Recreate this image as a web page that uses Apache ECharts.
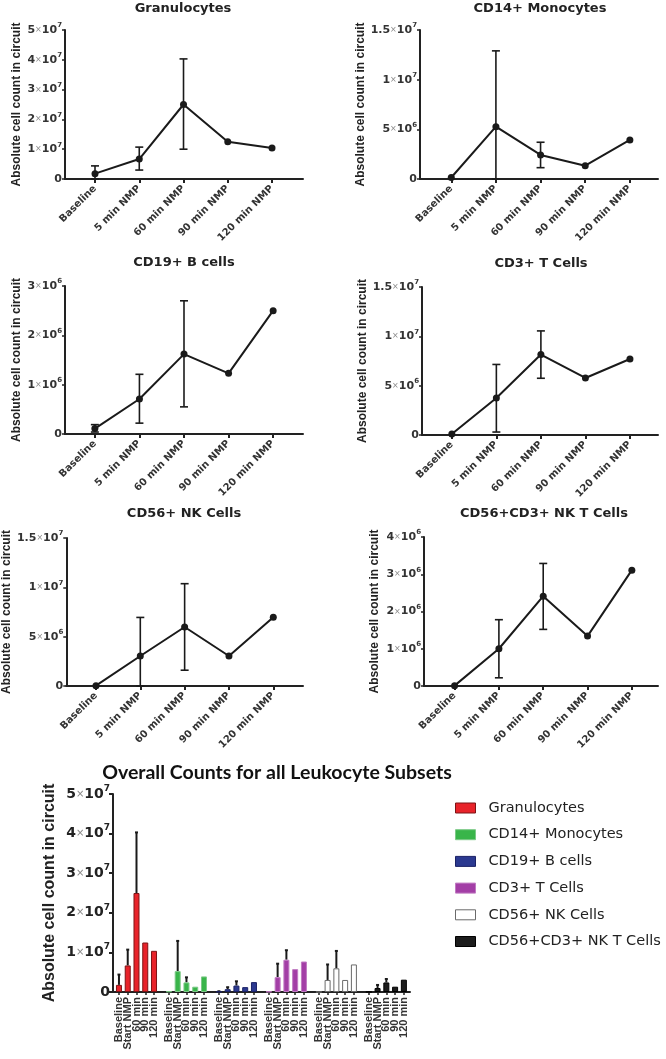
<!DOCTYPE html>
<html>
<head>
<meta charset="utf-8">
<script src="https://cdn.jsdelivr.net/npm/echarts@6/dist/echarts.min.js"></script>
<style>
  html, body { margin: 0; padding: 0; background: #fff; }
  #chart { width: 666px; height: 1059px; }
</style>
</head>
<body>
<div id="chart"></div>
<script>
// ---------- DATA ----------
const categories = ['Baseline', '5 min NMP', '60 min NMP', '90 min NMP', '120 min NMP'];
const barCategories = ['Baseline', 'Start NMP', '60 min', '90 min', '120 min'];
const subsetNames = ['Granulocytes', 'CD14+ Monocytes', 'CD19+ B cells', 'CD3+ T Cells', 'CD56+ NK Cells', 'CD56+CD3+ NK T Cells'];

const granMean = [1.8e6, 6.7e6, 2.5e7, 1.25e7, 1.04e7];
const granLow  = [0, 3.0e6, 1.0e7, null, null];
const granHigh = [4.4e6, 1.07e7, 4.03e7, null, null];

const monoMean = [1.5e5, 5.27e6, 2.42e6, 1.34e6, 3.93e6];
const monoLow  = [null, 0, 1.14e6, null, null];
const monoHigh = [null, 1.29e7, 3.7e6, null, null];

const bcellMean = [1.1e5, 7.1e5, 1.62e6, 1.23e6, 2.5e6];
const bcellLow  = [4e4, 2.2e5, 5.5e5, null, null];
const bcellHigh = [1.9e5, 1.21e6, 2.7e6, null, null];

const tcellMean = [1e5, 3.75e6, 8.15e6, 5.78e6, 7.7e6];
const tcellLow  = [null, 3e5, 5.75e6, null, null];
const tcellHigh = [null, 7.15e6, 1.055e7, null, null];

const nkMean = [3e4, 3.04e6, 5.98e6, 3.04e6, 6.96e6];
const nkLow  = [null, 0, 1.6e6, null, null];
const nkHigh = [null, 6.95e6, 1.037e7, null, null];

const nktMean = [1e4, 1.0e6, 2.41e6, 1.34e6, 3.11e6];
const nktLow  = [null, 2.2e5, 1.52e6, null, null];
const nktHigh = [null, 1.78e6, 3.29e6, null, null];

const yTitle = 'Absolute cell count in circuit';
const barTitle = 'Overall Counts for all Leukocyte Subsets';

// ---------- STYLE / LAYOUT ----------
const subsetData = [
  [granMean, granLow, granHigh],
  [monoMean, monoLow, monoHigh],
  [bcellMean, bcellLow, bcellHigh],
  [tcellMean, tcellLow, tcellHigh],
  [nkMean, nkLow, nkHigh],
  [nktMean, nktLow, nktHigh]
];
const barFill   = ['#e8232a', '#39b54a', '#2b3990', '#a33ea6', '#ffffff', '#1c1c1c'];
const barBorder = ['#7d1416', '#7cc987', '#1b2266', '#c07ac2', '#6a6a6a', '#000000'];

const panels = [
  { grid: { left: 65,  top: 30,  width: 238, height: 149 }, xMin: -0.678, xMax: 4.70, yMax: 5e7,   yInt: 1e7, gap: 42, tx: 183, ty: 2 },
  { grid: { left: 420, top: 30,  width: 238, height: 149 }, xMin: -0.70,  xMax: 4.63, yMax: 1.5e7, yInt: 5e6, gap: 49, tx: 540, ty: 2 },
  { grid: { left: 65,  top: 286, width: 238, height: 148 }, xMin: -0.67,  xMax: 4.67, yMax: 3e6,   yInt: 1e6, gap: 42, tx: 184, ty: 256 },
  { grid: { left: 422, top: 287, width: 236, height: 148 }, xMin: -0.67,  xMax: 4.63, yMax: 1.5e7, yInt: 5e6, gap: 51, tx: 541, ty: 257 },
  { grid: { left: 65,  top: 538, width: 238, height: 148 }, xMin: -0.67,  xMax: 4.67, yMax: 1.5e7, yInt: 5e6, gap: 52, tx: 184, ty: 507 },
  { grid: { left: 424, top: 537, width: 234, height: 149 }, xMin: -0.69,  xMax: 4.59, yMax: 4e6,   yInt: 1e6, gap: 43, tx: 544, ty: 507 }
];
const GROUP_STEP = 5.7; // slot units between groups in bar chart

function sciLabel(v) {
  if (v === 0) return '{m|0}';
  const e = Math.floor(Math.log10(v) + 1e-9);
  const m = +(v / Math.pow(10, e)).toFixed(2);
  return '{m|' + m + '}{x|×}{m|10}{s|' + e + '}';
}
function richSmall() {
  return {
    m: { fontFamily: 'DejaVu Sans', fontWeight: 'bold', fontSize: 11, color: '#333' },
    x: { fontFamily: 'DejaVu Sans', fontSize: 8, color: '#888' },
    s: { fontFamily: 'DejaVu Sans', fontWeight: 'bold', fontSize: 7, color: '#333', padding: [0, 0, 9, 0] }
  };
}
function richBig() {
  return {
    m: { fontFamily: 'DejaVu Sans', fontWeight: 'bold', fontSize: 14, color: '#222' },
    x: { fontFamily: 'DejaVu Sans', fontSize: 10, color: '#888' },
    s: { fontFamily: 'DejaVu Sans', fontWeight: 'bold', fontSize: 9, color: '#222', padding: [0, 0, 11, 0] }
  };
}

function errorRender(capHalf, lw, bottomCap) {
  return function (params, api) {
    const x = api.value(0), lo = api.value(1), hi = api.value(2);
    const pLo = api.coord([x, lo]);
    const pHi = api.coord([x, hi]);
    const style = { stroke: '#1a1a1a', lineWidth: lw, fill: null };
    const children = [
      { type: 'line', shape: { x1: pLo[0], y1: pLo[1], x2: pHi[0], y2: pHi[1] }, style: style },
      { type: 'line', shape: { x1: pHi[0] - capHalf, y1: pHi[1], x2: pHi[0] + capHalf, y2: pHi[1] }, style: style }
    ];
    if (bottomCap) {
      children.push({ type: 'line', shape: { x1: pLo[0] - capHalf, y1: pLo[1], x2: pLo[0] + capHalf, y2: pLo[1] }, style: style });
    }
    return { type: 'group', children: children };
  };
}

const grids = [], xAxes = [], yAxes = [], series = [], titles = [];
const axisLineStyle = { color: '#222', width: 2 };

panels.forEach(function (p, k) {
  grids.push(p.grid);
  xAxes.push({
    type: 'value', gridIndex: k, min: p.xMin, max: p.xMax,
    splitLine: { show: false },
    axisLine: { show: true, onZero: false, lineStyle: axisLineStyle },
    axisTick: { show: true, customValues: [0, 1, 2, 3, 4], length: 4, lineStyle: { color: '#222', width: 2 } },
    axisLabel: {
      customValues: [0, 1, 2, 3, 4], rotate: 45, margin: 8, showMinLabel: true, showMaxLabel: true,
      formatter: function (v) { return categories[Math.round(v)]; },
      fontFamily: 'DejaVu Sans', fontWeight: 'bold', fontSize: 10, color: '#333'
    }
  });
  yAxes.push({
    type: 'value', gridIndex: k, min: 0, max: p.yMax, interval: p.yInt,
    splitLine: { show: false },
    axisLine: { show: true, onZero: false, lineStyle: axisLineStyle },
    axisTick: { show: true, length: 3, lineStyle: { color: '#222', width: 1.5 } },
    axisLabel: { margin: 3, formatter: sciLabel, rich: richSmall() },
    name: yTitle, nameLocation: 'middle', nameGap: p.gap,
    nameTextStyle: { fontFamily: 'Liberation Sans', fontWeight: 'bold', fontSize: 12, color: '#222' }
  });
  titles.push({
    text: subsetNames[k], left: p.tx, top: p.ty, textAlign: 'center', padding: 0,
    textStyle: { fontFamily: 'DejaVu Sans', fontWeight: 'bold', fontSize: 13, color: '#222' }
  });
  const d = subsetData[k];
  const errPts = [];
  d[0].forEach(function (m, i) {
    if (d[2][i] != null) errPts.push([i, d[1][i], d[2][i]]);
  });
  series.push({
    type: 'custom', xAxisIndex: k, yAxisIndex: k, data: errPts,
    encode: { x: 0, y: [1, 2] }, clip: false, z: 2,
    renderItem: errorRender(4, 1.6, true), silent: true
  });
  series.push({
    type: 'line', xAxisIndex: k, yAxisIndex: k,
    data: d[0].map(function (m, i) { return [i, m]; }),
    symbol: 'circle', symbolSize: 7, z: 3,
    lineStyle: { color: '#1a1a1a', width: 2 },
    itemStyle: { color: '#1a1a1a' }, silent: true
  });
});

// ---------- Bottom bar chart ----------
const B = 6;
const BAR_X_MIN = -0.68, BAR_X_MAX = 33.2;
grids.push({ left: 113, top: 794, width: 297, height: 198 });
const barTickPos = [];
const barTickLab = {};
subsetNames.forEach(function (n, g) {
  barCategories.forEach(function (c, i) {
    const v = +(g * GROUP_STEP + i).toFixed(3);
    barTickPos.push(v);
    barTickLab[v.toFixed(3)] = c;
  });
});
// blank guard labels at both ends so the edge-label overlap check never removes a real label
const barLabelPos = [BAR_X_MIN + 0.05].concat(barTickPos, [BAR_X_MAX - 0.05]);
xAxes.push({
  type: 'value', gridIndex: B, min: BAR_X_MIN, max: BAR_X_MAX,
  splitLine: { show: false },
  axisLine: { show: true, onZero: false, lineStyle: axisLineStyle },
  axisTick: { show: true, customValues: barTickPos, length: 3, lineStyle: { color: '#222', width: 1.5 } },
  axisLabel: {
    customValues: barLabelPos, rotate: 90, margin: 5,
    formatter: function (v) { return barTickLab[(+v).toFixed(3)] || ' '; },
    fontFamily: 'Liberation Sans', fontWeight: 'bold', fontSize: 11, color: '#333'
  }
});
yAxes.push({
  type: 'value', gridIndex: B, min: 0, max: 5e7, interval: 1e7,
  splitLine: { show: false },
  axisLine: { show: true, onZero: false, lineStyle: axisLineStyle },
  axisTick: { show: true, length: 4, lineStyle: { color: '#222', width: 2 } },
  axisLabel: { margin: 3, formatter: sciLabel, rich: richBig() },
  name: yTitle, nameLocation: 'middle', nameGap: 55,
  nameTextStyle: { fontFamily: 'Liberation Sans', fontWeight: 'bold', fontSize: 16, color: '#222' }
});
titles.push({
  text: barTitle, left: 277, top: 763, textAlign: 'center', padding: 0,
  textStyle: { fontFamily: 'Lato', fontWeight: 'bold', fontSize: 19.5, color: '#111' }
});
const barErrPts = [];
subsetNames.forEach(function (n, g) {
  const d = subsetData[g];
  series.push({
    name: n, type: 'bar', xAxisIndex: B, yAxisIndex: B,
    data: d[0].map(function (m, i) { return [g * GROUP_STEP + i, m]; }),
    barWidth: 6, barGap: '-100%', z: 3,
    itemStyle: { color: barFill[g], borderColor: barBorder[g], borderWidth: 1 },
    silent: true
  });
  d[0].forEach(function (m, i) {
    if (d[2][i] != null) barErrPts.push([g * GROUP_STEP + i, m, d[2][i]]);
  });
});
series.push({
  type: 'custom', xAxisIndex: B, yAxisIndex: B, data: barErrPts,
  encode: { x: 0, y: [1, 2] }, clip: false, z: 2,
  renderItem: errorRender(1.5, 2, false), silent: true
});

const chart = echarts.init(document.getElementById('chart'), null, { renderer: 'canvas' });
chart.setOption({
  animation: false,
  backgroundColor: '#ffffff',
  title: titles,
  grid: grids,
  xAxis: xAxes,
  yAxis: yAxes,
  legend: {
    orient: 'vertical', left: 455, top: 800, padding: 0,
    itemWidth: 20, itemHeight: 10, itemGap: 10.7, icon: 'rect',
    data: subsetNames.map(function (n, g) {
      return { name: n, itemStyle: { color: barFill[g], borderColor: barBorder[g], borderWidth: 1 } };
    }),
    textStyle: { fontFamily: 'DejaVu Sans', fontSize: 14.5, color: '#222', lineHeight: 16, padding: [0, 0, 0, 8] },
    selectedMode: false
  },
  series: series
});
</script>
</body>
</html>
